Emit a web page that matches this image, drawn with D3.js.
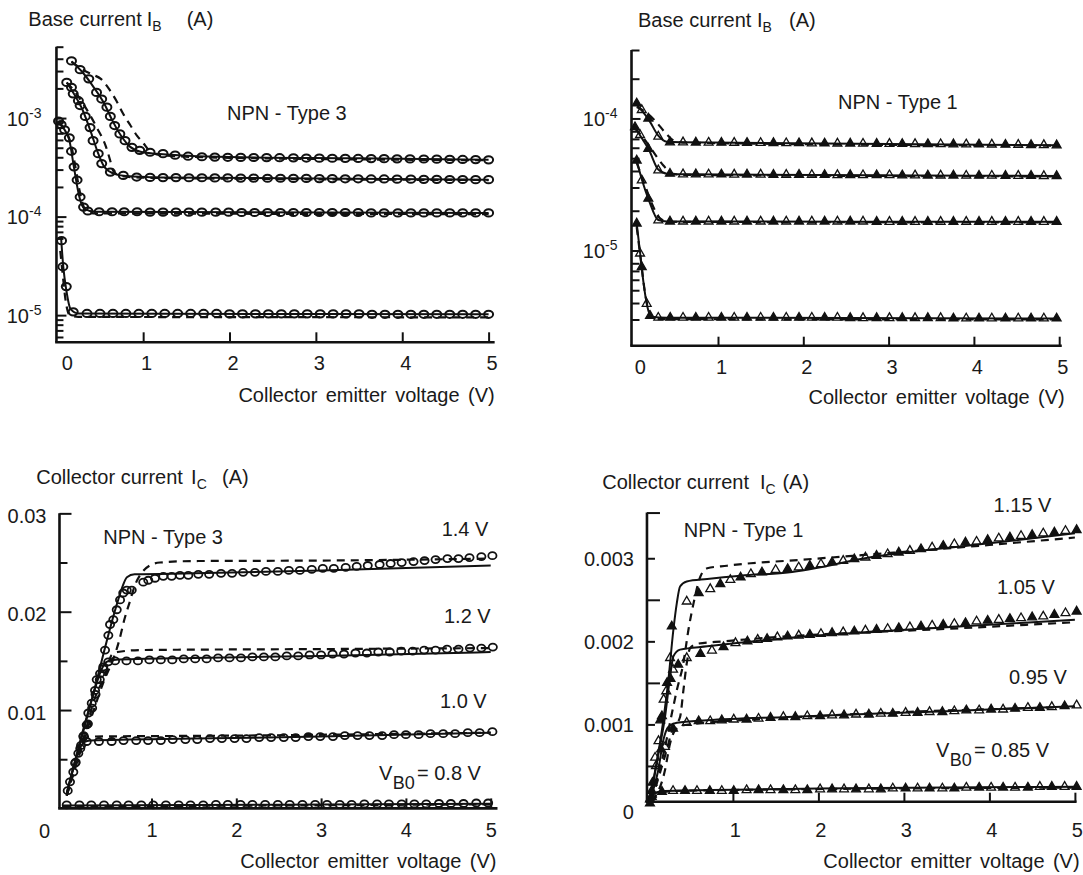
<!DOCTYPE html>
<html><head><meta charset="utf-8">
<script src="https://cdn.jsdelivr.net/npm/d3@7"></script>
<style>
body{margin:0;background:#fff;}
svg{display:block;}
text{font-family:"Liberation Sans",Arial,Helvetica,sans-serif;font-size:20px;fill:#1a1a1a;}
.pre{white-space:pre;}
.xt{word-spacing:2.8px;}
</style></head><body>
<svg id="chart" width="1083" height="875"></svg>
<script>
// ================= DATA =================
// Panel 1: NPN - Type 3, base current I_B (A) vs VCE (V), log axis
const P1_A_PTS=[[0.17,3.8e-3],[0.27,3.1e-3],[0.37,2.5e-3],[0.46,1.82e-3],[0.52,1.56e-3],[0.58,1.29e-3],[0.62,1.04e-3],[0.67,8.4e-4],[0.73,6.9e-4],[0.79,5.9e-4],[0.87,5.05e-4],[0.96,4.7e-4],[1.08,4.5e-4],[1.23,4.35e-4],[1.37,4.2e-4],[1.52,4.1e-4],[1.68,4.05e-4],[1.83,4.02e-4],[1.98,4.0e-4],[2.13,3.99e-4],[2.28,3.98e-4],[2.43,3.97e-4],[2.58,3.96e-4],[2.74,3.95e-4],[2.89,3.93e-4],[3.04,3.92e-4],[3.19,3.91e-4],[3.34,3.9e-4],[3.49,3.89e-4],[3.64,3.88e-4],[3.79,3.87e-4],[3.94,3.86e-4],[4.09,3.85e-4],[4.25,3.84e-4],[4.4,3.83e-4],[4.55,3.81e-4],[4.7,3.8e-4],[4.85,3.79e-4],[5.0,3.77e-4]];
const P1_A_FIT=[[0.17,3.75e-3],[0.3,2.9e-3],[0.42,2.1e-3],[0.55,1.4e-3],[0.65,9.2e-4],[0.75,6.5e-4],[0.85,5.1e-4],[0.97,4.55e-4],[1.15,4.35e-4],[2,4.02e-4],[3.5,3.9e-4],[5,3.78e-4]];
const P1_A_ALT=[[0.17,3.75e-3],[0.3,3.1e-3],[0.42,2.75e-3],[0.51,2.5e-3],[0.6,2.0e-3],[0.69,1.5e-3],[0.77,1.1e-3],[0.85,8.5e-4],[0.93,6.6e-4],[1.0,5.6e-4],[1.08,4.6e-4],[1.2,4.2e-4],[2,3.95e-4],[5,3.74e-4]];
const P1_B_PTS=[[0.115,2.3e-3],[0.17,2.05e-3],[0.19,1.76e-3],[0.25,1.5e-3],[0.27,1.34e-3],[0.33,1.04e-3],[0.385,8.0e-4],[0.42,5.9e-4],[0.48,4.35e-4],[0.52,3.45e-4],[0.62,2.83e-4],[0.77,2.62e-4],[0.925,2.52e-4],[1.08,2.5e-4],[1.23,2.49e-4],[1.38,2.49e-4],[1.53,2.48e-4],[1.68,2.48e-4],[1.83,2.47e-4],[1.98,2.47e-4],[2.13,2.46e-4],[2.28,2.46e-4],[2.44,2.45e-4],[2.59,2.45e-4],[2.74,2.44e-4],[2.89,2.44e-4],[3.04,2.43e-4],[3.19,2.43e-4],[3.34,2.42e-4],[3.49,2.42e-4],[3.64,2.41e-4],[3.79,2.41e-4],[3.94,2.4e-4],[4.1,2.4e-4],[4.25,2.39e-4],[4.4,2.39e-4],[4.55,2.38e-4],[4.7,2.38e-4],[4.85,2.37e-4],[5.0,2.37e-4]];
const P1_B_FIT=[[0.115,2.3e-3],[0.2,1.75e-3],[0.3,1.2e-3],[0.4,7e-4],[0.47,4.6e-4],[0.55,3.2e-4],[0.65,2.75e-4],[0.8,2.58e-4],[1.2,2.5e-4],[5,2.37e-4]];
const P1_B_ALT=[[0.115,2.3e-3],[0.22,1.8e-3],[0.33,1.29e-3],[0.46,8.1e-4],[0.57,5.1e-4],[0.615,3.8e-4],[0.655,2.9e-4],[0.73,2.6e-4],[1.0,2.48e-4],[5,2.35e-4]];
const P1_C_PTS=[[0.02,9.3e-4],[0.05,8.6e-4],[0.09,7.6e-4],[0.145,6.3e-4],[0.17,4.6e-4],[0.2,3.2e-4],[0.235,2.35e-4],[0.27,1.58e-4],[0.31,1.25e-4],[0.36,1.14e-4],[0.49,1.12e-4],[0.64,1.12e-4],[0.78,1.12e-4],[0.93,1.12e-4],[1.08,1.11e-4],[1.23,1.11e-4],[1.38,1.11e-4],[1.53,1.11e-4],[1.68,1.11e-4],[1.84,1.11e-4],[1.99,1.11e-4],[2.14,1.1e-4],[2.29,1.1e-4],[2.44,1.1e-4],[2.59,1.1e-4],[2.74,1.1e-4],[2.89,1.1e-4],[3.04,1.1e-4],[3.19,1.1e-4],[3.34,1.1e-4],[3.49,1.1e-4],[3.64,1.09e-4],[3.79,1.09e-4],[3.95,1.09e-4],[4.1,1.09e-4],[4.25,1.09e-4],[4.4,1.09e-4],[4.55,1.09e-4],[4.7,1.09e-4],[4.85,1.09e-4],[5.0,1.09e-4]];
const P1_C_FIT=[[0.02,9.3e-4],[0.09,7.6e-4],[0.145,6.0e-4],[0.2,3.1e-4],[0.26,1.6e-4],[0.32,1.2e-4],[0.45,1.12e-4],[5,1.09e-4]];
const P1_C_ALT=[[0.02,9.0e-4],[0.1,7.4e-4],[0.16,5.6e-4],[0.21,3.4e-4],[0.26,1.9e-4],[0.32,1.22e-4],[0.42,1.08e-4],[5,1.06e-4]];
const P1_D_PTS=[[0.055,5.7e-5],[0.07,3.1e-5],[0.11,1.95e-5],[0.19,1.08e-5],[0.35,1.04e-5],[0.5,1.04e-5],[0.65,1.04e-5],[0.8,1.04e-5],[0.95,1.04e-5],[1.1,1.04e-5],[1.25,1.04e-5],[1.4,1.04e-5],[1.55,1.04e-5],[1.7,1.04e-5],[1.85,1.04e-5],[2.0,1.03e-5],[2.15,1.03e-5],[2.3,1.03e-5],[2.45,1.03e-5],[2.6,1.03e-5],[2.75,1.03e-5],[2.9,1.03e-5],[3.05,1.03e-5],[3.2,1.03e-5],[3.35,1.03e-5],[3.5,1.03e-5],[3.65,1.02e-5],[3.8,1.02e-5],[3.95,1.02e-5],[4.1,1.02e-5],[4.25,1.02e-5],[4.4,1.02e-5],[4.55,1.02e-5],[4.7,1.02e-5],[4.85,1.02e-5],[5.0,1.02e-5]];
const P1_D_FIT=[[0.05,6e-5],[0.075,3.1e-5],[0.11,1.8e-5],[0.16,1.15e-5],[0.25,1.04e-5],[5,1.02e-5]];
const P1_D_ALT=[[0.04,4.5e-5],[0.07,2.5e-5],[0.1,1.45e-5],[0.15,1.0e-5],[0.25,9.6e-6],[5,9.5e-6]];

// Panel 2: NPN - Type 1, base current I_B (A), log axis
const P2_A_PTS=[[0.047,1.3e-4],[0.106,1.16e-4],[0.183,1.0e-4],[0.3,7.3e-5],[0.437,6.6e-5],[0.59,6.6e-5],[0.74,6.58e-5],[0.89,6.57e-5],[1.04,6.56e-5],[1.19,6.55e-5],[1.34,6.54e-5],[1.5,6.53e-5],[1.65,6.52e-5],[1.8,6.51e-5],[1.95,6.5e-5],[2.1,6.49e-5],[2.25,6.48e-5],[2.4,6.47e-5],[2.55,6.46e-5],[2.7,6.45e-5],[2.86,6.44e-5],[3.01,6.43e-5],[3.16,6.42e-5],[3.31,6.41e-5],[3.46,6.4e-5],[3.61,6.39e-5],[3.76,6.38e-5],[3.91,6.37e-5],[4.06,6.36e-5],[4.21,6.35e-5],[4.37,6.34e-5],[4.52,6.32e-5],[4.67,6.3e-5],[4.82,6.29e-5],[4.97,6.27e-5]];
const P2_A_FIT=[[0.047,1.27e-4],[0.12,1.12e-4],[0.2,9.5e-5],[0.3,7.4e-5],[0.4,6.65e-5],[0.6,6.6e-5],[5,6.27e-5]];
const P2_A_ALT=[[0.047,1.22e-4],[0.15,1.12e-4],[0.27,9.5e-5],[0.39,7.7e-5],[0.5,6.7e-5],[0.65,6.55e-5],[5,6.22e-5]];
const P2_B_PTS=[[0.027,8.6e-5],[0.086,7.5e-5],[0.183,5.9e-5],[0.3,4.05e-5],[0.437,3.82e-5],[0.59,3.78e-5],[0.74,3.78e-5],[0.89,3.77e-5],[1.04,3.77e-5],[1.19,3.76e-5],[1.34,3.76e-5],[1.5,3.76e-5],[1.65,3.75e-5],[1.8,3.75e-5],[1.95,3.75e-5],[2.1,3.74e-5],[2.25,3.74e-5],[2.4,3.73e-5],[2.55,3.73e-5],[2.7,3.72e-5],[2.86,3.72e-5],[3.01,3.72e-5],[3.16,3.71e-5],[3.31,3.71e-5],[3.46,3.7e-5],[3.61,3.7e-5],[3.76,3.7e-5],[3.91,3.69e-5],[4.06,3.69e-5],[4.21,3.69e-5],[4.37,3.68e-5],[4.52,3.68e-5],[4.67,3.68e-5],[4.82,3.67e-5],[4.97,3.67e-5]];
const P2_B_FIT=[[0.027,8.6e-5],[0.1,7.2e-5],[0.19,5.8e-5],[0.3,4.1e-5],[0.4,3.82e-5],[0.6,3.78e-5],[5,3.67e-5]];
const P2_B_ALT=[[0.027,8.4e-5],[0.12,7.2e-5],[0.24,5.6e-5],[0.36,4.4e-5],[0.47,3.8e-5],[0.6,3.74e-5],[5,3.64e-5]];
const P2_C_PTS=[[0.047,4.8e-5],[0.106,3.4e-5],[0.183,2.47e-5],[0.3,1.69e-5],[0.437,1.66e-5],[0.59,1.66e-5],[0.74,1.66e-5],[0.89,1.66e-5],[1.04,1.66e-5],[1.19,1.66e-5],[1.34,1.66e-5],[1.5,1.66e-5],[1.65,1.66e-5],[1.8,1.66e-5],[1.95,1.66e-5],[2.1,1.66e-5],[2.25,1.66e-5],[2.4,1.66e-5],[2.55,1.66e-5],[2.7,1.66e-5],[2.86,1.65e-5],[3.01,1.65e-5],[3.16,1.65e-5],[3.31,1.65e-5],[3.46,1.65e-5],[3.61,1.65e-5],[3.76,1.65e-5],[3.91,1.65e-5],[4.06,1.65e-5],[4.21,1.65e-5],[4.37,1.65e-5],[4.52,1.65e-5],[4.67,1.65e-5],[4.82,1.65e-5],[4.97,1.65e-5]];
const P2_C_FIT=[[0.047,4.8e-5],[0.11,3.4e-5],[0.19,2.4e-5],[0.3,1.7e-5],[0.4,1.66e-5],[5,1.65e-5]];
const P2_C_ALT=[[0.047,4.6e-5],[0.13,3.3e-5],[0.22,2.3e-5],[0.32,1.75e-5],[0.42,1.65e-5],[5,1.63e-5]];
const P2_D_PTS=[[0.047,1.6e-5],[0.086,9.5e-6],[0.106,7.5e-6],[0.164,3.95e-6],[0.203,3.2e-6],[0.3,3.1e-6],[0.44,3.1e-6],[0.59,3.1e-6],[0.74,3.1e-6],[0.89,3.1e-6],[1.04,3.1e-6],[1.19,3.1e-6],[1.34,3.1e-6],[1.5,3.1e-6],[1.65,3.1e-6],[1.8,3.1e-6],[1.95,3.1e-6],[2.1,3.1e-6],[2.25,3.1e-6],[2.4,3.1e-6],[2.55,3.08e-6],[2.7,3.08e-6],[2.86,3.08e-6],[3.01,3.08e-6],[3.16,3.08e-6],[3.31,3.08e-6],[3.46,3.08e-6],[3.61,3.08e-6],[3.76,3.06e-6],[3.91,3.06e-6],[4.06,3.06e-6],[4.21,3.06e-6],[4.37,3.06e-6],[4.52,3.06e-6],[4.67,3.06e-6],[4.82,3.06e-6],[4.97,3.06e-6]];
const P2_D_FIT=[[0.047,1.6e-5],[0.09,9.2e-6],[0.125,5.8e-6],[0.17,3.8e-6],[0.22,3.15e-6],[0.4,3.1e-6],[5,3.05e-6]];
const P2_D_ALT=[[0.047,1.5e-5],[0.1,8.0e-6],[0.14,5.0e-6],[0.19,3.5e-6],[0.26,3.02e-6],[5,3.0e-6]];

// Panel 3: NPN - Type 3, collector current I_C (A), linear axis
const P3_14_PTS=[[0.196,0.0073],[0.236,0.0085],[0.255,0.0097],[0.295,0.0107],[0.334,0.012],[0.354,0.0131],[0.393,0.0137],[0.432,0.0144],[0.452,0.0161],[0.491,0.0176],[0.511,0.0187],[0.55,0.0192],[0.59,0.0202],[0.629,0.0212],[0.667,0.0219],[0.708,0.0222],[0.767,0.0222],[0.903,0.023],[0.962,0.0232],[1.041,0.0234],[1.139,0.0236],[1.238,0.0236],[1.336,0.0237],[1.434,0.0237],[1.552,0.0238],[1.68,0.0238],[1.82,0.0239],[1.95,0.0239],[2.08,0.024],[2.22,0.024],[2.35,0.0241],[2.49,0.0241],[2.62,0.0242],[2.75,0.0242],[2.89,0.0243],[3.02,0.0244],[3.15,0.0244],[3.29,0.0245],[3.42,0.0246],[3.55,0.0247],[3.69,0.0248],[3.82,0.0249],[3.95,0.025],[4.09,0.0251],[4.22,0.0252],[4.35,0.0253],[4.49,0.0254],[4.62,0.0254],[4.75,0.0255],[4.89,0.0256],[5.02,0.0257]];
const P3_14_FIT=[[0,0.0015],[0.3,0.0112],[0.6,0.021],[0.66,0.0226],[0.71,0.0235],[0.8,0.0238],[1.5,0.0239],[3,0.0242],[5,0.0247]];
const P3_14_ALT=[[0,0.0013],[0.3,0.0095],[0.45,0.0132],[0.55,0.0152],[0.62,0.0171],[0.68,0.0192],[0.74,0.0209],[0.81,0.0228],[0.88,0.0239],[0.98,0.0247],[1.1,0.025],[1.5,0.02515],[3,0.0252],[5,0.0254]];
const P3_12_PTS=[[0.1,0.0046],[0.16,0.0061],[0.2,0.0074],[0.25,0.0086],[0.3,0.0102],[0.34,0.0116],[0.39,0.0131],[0.43,0.0142],[0.49,0.0149],[0.57,0.015],[0.705,0.015],[0.84,0.015],[0.975,0.0151],[1.11,0.0151],[1.245,0.0151],[1.38,0.0152],[1.515,0.0152],[1.65,0.0152],[1.785,0.0153],[1.92,0.0153],[2.055,0.0153],[2.19,0.0154],[2.325,0.0154],[2.46,0.0154],[2.595,0.0155],[2.73,0.0155],[2.865,0.0156],[3.0,0.0156],[3.135,0.0157],[3.27,0.0157],[3.405,0.0158],[3.54,0.0158],[3.675,0.0159],[3.81,0.0159],[3.945,0.016],[4.08,0.016],[4.215,0.0161],[4.35,0.0161],[4.485,0.0162],[4.62,0.0162],[4.755,0.0163],[4.89,0.0163],[5.025,0.0164]];
const P3_12_FIT=[[0,0.0015],[0.3,0.0112],[0.42,0.0143],[0.47,0.0149],[0.55,0.0151],[1.5,0.0153],[3,0.0155],[5,0.0159]];
const P3_12_ALT=[[0,0.0013],[0.2,0.0072],[0.34,0.0114],[0.46,0.0137],[0.53,0.0156],[0.6,0.0159],[0.87,0.0161],[3,0.0162],[5,0.0163]];
const P3_10_PTS=[[0.012,0.0018],[0.039,0.0027],[0.078,0.0037],[0.106,0.0047],[0.137,0.0056],[0.169,0.0064],[0.236,0.0068],[0.38,0.0068],[0.53,0.0068],[0.67,0.0069],[0.82,0.0069],[0.96,0.0069],[1.11,0.0069],[1.25,0.007],[1.4,0.007],[1.54,0.007],[1.69,0.0071],[1.83,0.0071],[1.98,0.0071],[2.12,0.0071],[2.27,0.0072],[2.41,0.0072],[2.56,0.0072],[2.7,0.0072],[2.85,0.0073],[2.99,0.0073],[3.14,0.0073],[3.28,0.0074],[3.43,0.0074],[3.57,0.0074],[3.72,0.0074],[3.86,0.0075],[4.0,0.0075],[4.15,0.0075],[4.29,0.0076],[4.44,0.0076],[4.58,0.0076],[4.73,0.0077],[4.87,0.0077],[5.02,0.0078]];
const P3_10_FIT=[[0,0.0015],[0.15,0.006],[0.2,0.0067],[0.28,0.0069],[1.5,0.0071],[3,0.0073],[5,0.0077]];
const P3_10_ALT=[[0,0.0013],[0.16,0.0058],[0.22,0.007],[0.26,0.0073],[2,0.0074],[5,0.0077]];
const P3_08_PTS=[[0.0,0.00035],[0.15,0.00035],[0.29,0.00035],[0.44,0.00035],[0.59,0.00035],[0.73,0.00035],[0.88,0.00035],[1.02,0.00035],[1.17,0.00035],[1.32,0.00035],[1.46,0.00035],[1.61,0.00035],[1.76,0.0004],[1.9,0.0004],[2.05,0.0004],[2.19,0.0004],[2.34,0.0004],[2.49,0.0004],[2.63,0.0004],[2.78,0.0004],[2.93,0.0004],[3.07,0.0004],[3.22,0.0004],[3.36,0.0004],[3.51,0.00045],[3.66,0.00045],[3.8,0.00045],[3.95,0.00045],[4.1,0.00045],[4.24,0.00045],[4.39,0.0005],[4.53,0.0005],[4.68,0.0005],[4.83,0.00055],[4.97,0.00055]];
const P3_08_FIT=[[-0.05,0.0003],[2.5,0.00038],[5,0.00048]];
const P3_08_ALT=[[-0.05,0.00022],[2.5,0.0003],[5,0.00042]];

// Panel 4: NPN - Type 1, collector current I_C (A), linear axis
const P4_115_PTS=[[0.03,0.0001],[0.09,0.0006],[0.15,0.00105],[0.19,0.0013],[0.23,0.0015],[0.265,0.0018],[0.285,0.00218],[0.46,0.00248],[0.6,0.00258],[0.735,0.00263],[0.853,0.00269],[0.97,0.00274],[1.09,0.00277],[1.21,0.00281],[1.34,0.00283],[1.5,0.00286],[1.64,0.00287],[1.77,0.00289],[1.9,0.00291],[2.03,0.00293],[2.16,0.00295],[2.29,0.00297],[2.42,0.00299],[2.55,0.00301],[2.68,0.00303],[2.81,0.00305],[2.94,0.00307],[3.07,0.00309],[3.2,0.00311],[3.33,0.00313],[3.46,0.00315],[3.59,0.00317],[3.72,0.00319],[3.85,0.0032],[3.98,0.00322],[4.11,0.00324],[4.24,0.00325],[4.37,0.00327],[4.5,0.00328],[4.63,0.0033],[4.76,0.00331],[4.89,0.00333],[5.02,0.00334]];
const P4_115_FIT=[[0.03,0.00009],[0.108,0.00053],[0.186,0.00105],[0.245,0.00153],[0.304,0.00214],[0.344,0.00246],[0.382,0.00266],[0.46,0.00272],[0.7,0.00275],[1.09,0.00279],[1.64,0.00283],[2.66,0.00302],[4,0.00318],[5,0.0033]];
const P4_115_ALT=[[0.05,0.0001],[0.2,0.0007],[0.3,0.0012],[0.344,0.00141],[0.421,0.00174],[0.48,0.00214],[0.54,0.00246],[0.62,0.00278],[0.7,0.00288],[0.93,0.00291],[1.21,0.00294],[1.64,0.00297],[2.66,0.00305],[4,0.00316],[5,0.00325]];
const P4_105_PTS=[[0.06,0.0003],[0.13,0.0008],[0.17,0.0011],[0.22,0.0014],[0.27,0.00155],[0.3,0.00166],[0.36,0.00172],[0.46,0.0018],[0.62,0.00185],[0.755,0.00189],[0.89,0.00193],[1.03,0.00198],[1.17,0.002],[1.29,0.00202],[1.4,0.00203],[1.52,0.00205],[1.64,0.00206],[1.77,0.00207],[1.9,0.00208],[2.03,0.00209],[2.16,0.0021],[2.29,0.00211],[2.42,0.00212],[2.55,0.00213],[2.68,0.00214],[2.81,0.00215],[2.94,0.00216],[3.07,0.00217],[3.2,0.00218],[3.33,0.00219],[3.46,0.0022],[3.59,0.00221],[3.72,0.00222],[3.85,0.00224],[3.98,0.00225],[4.11,0.00226],[4.24,0.00227],[4.37,0.00228],[4.5,0.00229],[4.63,0.0023],[4.76,0.00232],[4.89,0.00234],[5.02,0.00236]];
const P4_105_FIT=[[0.03,0.00009],[0.1,0.0005],[0.206,0.00109],[0.265,0.00157],[0.304,0.00182],[0.382,0.0019],[0.7,0.00194],[1.64,0.00204],[3.5,0.00217],[5,0.00226]];
const P4_105_ALT=[[0.05,0.00009],[0.2,0.0006],[0.3,0.00095],[0.382,0.00109],[0.421,0.00141],[0.461,0.00174],[0.5,0.00192],[0.58,0.00197],[0.89,0.002],[1.64,0.00206],[3.5,0.00215],[5,0.00223]];
const P4_095_PTS=[[0.05,0.0002],[0.1,0.0005],[0.16,0.0007],[0.206,0.00073],[0.3,0.00095],[0.46,0.00102],[0.6,0.00104],[0.735,0.00104],[0.87,0.00105],[1.01,0.00106],[1.16,0.00106],[1.3,0.00107],[1.44,0.00108],[1.59,0.00109],[1.73,0.00109],[1.87,0.0011],[2.02,0.0011],[2.16,0.00111],[2.3,0.00111],[2.44,0.00112],[2.59,0.00112],[2.73,0.00113],[2.87,0.00113],[3.02,0.00114],[3.16,0.00114],[3.3,0.00115],[3.45,0.00115],[3.59,0.00116],[3.73,0.00117],[3.88,0.00117],[4.02,0.00118],[4.16,0.00118],[4.3,0.00119],[4.45,0.0012],[4.59,0.0012],[4.73,0.00121],[4.88,0.00122],[5.02,0.00123]];
const P4_095_FIT=[[0.03,0.00009],[0.127,0.00045],[0.186,0.00081],[0.245,0.00097],[0.344,0.00102],[0.7,0.00105],[1.64,0.00109],[3.5,0.00116],[5,0.00122]];
const P4_095_ALT=[[0.05,0.00008],[0.206,0.00045],[0.265,0.00077],[0.324,0.00093],[0.421,0.00099],[1.64,0.00108],[5,0.00121]];
const P4_085_PTS=[[0.03,0.00005],[0.05,0.00013],[0.17,0.00019],[0.3,0.0002],[0.44,0.0002],[0.58,0.0002],[0.73,0.0002],[0.87,0.0002],[1.01,0.0002],[1.16,0.00021],[1.3,0.00021],[1.44,0.00021],[1.59,0.00021],[1.73,0.00021],[1.87,0.00021],[2.02,0.00022],[2.16,0.00022],[2.3,0.00022],[2.44,0.00022],[2.59,0.00022],[2.73,0.00022],[2.87,0.00023],[3.02,0.00023],[3.16,0.00023],[3.3,0.00023],[3.45,0.00023],[3.59,0.00023],[3.73,0.00024],[3.88,0.00024],[4.02,0.00024],[4.16,0.00024],[4.3,0.00024],[4.45,0.00024],[4.59,0.00025],[4.73,0.00025],[4.88,0.00025],[5.02,0.00025]];
const P4_085_FIT=[[0.0,0.00002],[0.03,0.00009],[0.1,0.00018],[0.2,0.0002],[5,0.00025]];
const P4_085_ALT=[[0.05,0.00006],[0.15,0.00017],[0.3,0.0002],[5,0.00024]];

// Tick values / labels
const X_TICKS=[1,2,3,4,5];
const X_LABELS=[0,1,2,3,4,5];
const P1_Y_MAJOR=[1e-5,1e-4,1e-3];
const P1_Y_MINOR=[6e-6,7e-6,8e-6,9e-6,6e-5,7e-5,8e-5,9e-5,2e-4,3e-4,4e-4,5e-4,6e-4,7e-4,8e-4,9e-4,2e-3,3e-3,4e-3,5.3e-3];
const P2_Y_MAJOR=[1e-5,1e-4];
const P2_Y_MINOR=[3e-6,4e-6,5e-6,6e-6,7e-6,8e-6,2e-5,3e-5,4e-5,5e-5,6e-5,7e-5,8e-5,2e-4,3.3e-4];
const P3_Y_MAJOR=[0.01,0.02,0.03];
const P3_Y_MINOR=[0.005,0.015,0.025];
const P4_Y_LABELS=[0,0.001,0.002,0.003];
const P4_Y_SHORT=[0.001,0.002,0.003];
const P4_Y_LONG=[0.0005,0.0015,0.0025,0.00355];
const P3_CURVE_LABELS=[{v:1.4,t:"1.4 V"},{v:1.2,t:"1.2 V"},{v:1.0,t:"1.0 V"}];
const P4_CURVE_LABELS=[{v:1.15,t:"1.15 V"},{v:1.05,t:"1.05 V"},{v:0.95,t:"0.95 V"}];

// ================= DRAWING =================
const svg=d3.select('#chart');
const defs=svg.append('defs');
const INK='#111';

function drawPanel(cfg){
  const x=d3.scaleLinear().domain([0,5]).range(cfg.xRange);
  const y=(cfg.log?d3.scaleLog():d3.scaleLinear()).domain(cfg.yDomain).range(cfg.yRange);
  const X0=x(cfg.xExt[0]),X1=x(cfg.xExt[1]);
  const YB=y(cfg.yExt[0]),YT=y(cfg.yExt[1]);
  const g=svg.append('g');
  defs.append('clipPath').attr('id',cfg.id+'clip').append('rect')
    .attr('x',X0).attr('y',YT-8).attr('width',X1-X0+10).attr('height',YB-YT+8);

  const plot=g.append('g').attr('clip-path',`url(#${cfg.id}clip)`);
  const line=d3.line().x(d=>x(d[0])).y(d=>y(d[1])).curve(d3.curveMonotoneX);
  cfg.series.forEach(s=>{
    plot.append('path').attr('d',line(s.fit)).attr('fill','none').attr('stroke',INK).attr('stroke-width',2);
    plot.append('path').attr('d',line(s.alt)).attr('fill','none').attr('stroke',INK).attr('stroke-width',2.2).attr('stroke-dasharray','8,6');
  });
  const mk=g.append('g');
  cfg.series.forEach(s=>{
    if(cfg.marker==='circle'){
      mk.selectAll(null).data(s.pts).enter().append('ellipse')
        .attr('cx',d=>x(d[0])).attr('cy',d=>y(d[1])).attr('rx',cfg.rx).attr('ry',cfg.ry)
        .attr('fill','none').attr('stroke',INK).attr('stroke-width',cfg.mw);
    } else {
      const sym=d3.symbol(d3.symbolTriangle,34)();
      mk.selectAll(null).data(s.pts).enter().append('path')
        .attr('d',sym).attr('transform',d=>`translate(${x(d[0])},${y(d[1])})`)
        .attr('fill',(d,i)=>i%2===0?INK:'none').attr('stroke',INK).attr('stroke-width',1.3);
    }
  });

  // axis lines
  g.append('line').attr('x1',X0).attr('x2',X0).attr('y1',YT).attr('y2',YB).attr('stroke',INK).attr('stroke-width',2.6);
  g.append('line').attr('x1',X0-1.3).attr('x2',X1).attr('y1',YB).attr('y2',YB).attr('stroke',INK).attr('stroke-width',2.6);

  // y ticks
  const strip=sel=>{sel.select('.domain').remove();sel.attr('font-size',null).attr('font-family',null);sel.selectAll('.tick line').attr('stroke-width',2).attr('stroke',INK);};
  cfg.yTicks.forEach(t=>{
    const ax=d3.axisLeft(y).tickValues(t.values).tickSize(-t.len).tickSizeOuter(0).tickFormat(()=> '');
    g.append('g').attr('transform',`translate(${X0},0)`).call(ax).call(strip).selectAll('text').remove();
  });
  // y labels
  const yl=g.append('g').attr('transform',`translate(${X0},0)`)
    .call(d3.axisLeft(y).tickValues(cfg.yLabels).tickSize(0).tickPadding(cfg.yPad).tickFormat(cfg.yFmt||(d=>'')))
    .call(strip);
  yl.selectAll('.tick text').attr('dy',d=>((d===0&&cfg.y0dy)?cfg.y0dy:(cfg.yDy||7))+'px');
  if(cfg.log){
    yl.selectAll('.tick text').each(function(d){
      const t=d3.select(this);t.text('');
      t.append('tspan').text('10');
      t.append('tspan').attr('font-size',14).attr('dy',-8).text(String(Math.round(Math.log10(d))));
    });
  }
  // x ticks
  g.append('g').attr('transform',`translate(0,${YB})`)
    .call(d3.axisBottom(x).tickValues(X_TICKS).tickSize(-cfg.xTickLen).tickSizeOuter(0).tickFormat(()=> ''))
    .call(strip).selectAll('text').remove();
  const xl=g.append('g').attr('transform',`translate(0,${YB})`)
    .call(d3.axisBottom(x).tickValues(cfg.xLabels).tickSize(0).tickPadding(cfg.xPad).tickFormat(d3.format('d')))
    .call(strip);
  xl.selectAll('.tick text').attr('dx',d=>d===0?cfg.x0dx:cfg.xdx);

  // axis titles
  g.append('text').attr('class','xt').attr('x',X1+cfg.xTitle[0]).attr('y',YB+cfg.xTitle[1]).attr('text-anchor','end').text('Collector emitter voltage (V)');
  const tt=g.append('text').attr('class','pre').attr('x',cfg.title.x).attr('y',cfg.title.y);
  tt.append('tspan').text(cfg.title.main);
  tt.append('tspan').attr('x',cfg.title.ix).text('I');
  tt.append('tspan').attr('font-size',14).attr('dy',5).text(cfg.title.sub);
  tt.append('tspan').attr('x',cfg.title.ax).attr('dy',-5).text('(A)');
  g.append('text').attr('x',cfg.npn[0]).attr('y',cfg.npn[1]).text(cfg.npn[2]);
  return {g,x,y,X0,YB};
}

const p1=drawPanel({id:'p1',log:true,xRange:[56.8,488.6],yDomain:[5.3e-6,5.3e-3],yRange:[342.3,46.7],
  xExt:[-0.004,5.07],yExt:[5.3e-6,5.3e-3],marker:'circle',rx:4.5,ry:3.6,mw:2,
  yTicks:[{values:P1_Y_MAJOR,len:10},{values:P1_Y_MINOR,len:7}],yLabels:P1_Y_MAJOR,yPad:15,yDy:7,
  xTickLen:10,xLabels:X_LABELS,xPad:14,x0dx:10,xdx:3,xTitle:[0,60],
  title:{x:28.3,y:26,main:'Base current',ix:146.7,sub:'B',ax:186.7},npn:[227,120,'NPN - Type 3'],
  series:[{pts:P1_A_PTS,fit:P1_A_FIT,alt:P1_A_ALT},{pts:P1_B_PTS,fit:P1_B_FIT,alt:P1_B_ALT},{pts:P1_C_PTS,fit:P1_C_FIT,alt:P1_C_ALT},{pts:P1_D_PTS,fit:P1_D_FIT,alt:P1_D_ALT}]});

const p2=drawPanel({id:'p2',log:true,xRange:[632.7,1059.2],yDomain:[1.9e-6,3.3e-4],yRange:[345.7,50],
  xExt:[-0.014,5.03],yExt:[1.9e-6,3.3e-4],marker:'triangle',
  yTicks:[{values:P2_Y_MAJOR,len:9},{values:P2_Y_MINOR,len:8}],yLabels:P2_Y_MAJOR,yPad:14,yDy:7,
  xTickLen:9,xLabels:X_LABELS,xPad:14,x0dx:7,xdx:3,xTitle:[3,58],
  title:{x:638,y:27,main:'Base current',ix:757,sub:'B',ax:789},npn:[838,109,'NPN - Type 1'],
  series:[{pts:P2_A_PTS,fit:P2_A_FIT,alt:P2_A_ALT},{pts:P2_B_PTS,fit:P2_B_FIT,alt:P2_B_ALT},{pts:P2_C_PTS,fit:P2_C_FIT,alt:P2_C_ALT},{pts:P2_D_PTS,fit:P2_D_FIT,alt:P2_D_ALT}]});

const p3=drawPanel({id:'p3',log:false,xRange:[66.7,490.7],yDomain:[0,0.03],yRange:[808.4,513.35],
  xExt:[-0.085,5.08],yExt:[0,0.03],marker:'circle',rx:4.1,ry:3.5,mw:1.8,
  yTicks:[{values:P3_Y_MAJOR,len:12},{values:P3_Y_MINOR,len:8}],yLabels:P3_Y_MAJOR,yPad:13,yDy:9,yFmt:d3.format('.2f'),
  xTickLen:10,xLabels:X_TICKS,xPad:14,x0dx:0,xdx:0,xTitle:[-1,60],
  title:{x:36.2,y:484,main:'Collector current',ix:191.1,sub:'C',ax:222},npn:[103.3,544,'NPN - Type 3'],
  series:[{pts:P3_14_PTS,fit:P3_14_FIT,alt:P3_14_ALT},{pts:P3_12_PTS,fit:P3_12_FIT,alt:P3_12_ALT},{pts:P3_10_PTS,fit:P3_10_FIT,alt:P3_10_ALT},{pts:P3_08_PTS,fit:P3_08_FIT,alt:P3_08_ALT}]});

const p4=drawPanel({id:'p4',log:false,xRange:[647.4,1074.9],yDomain:[0,0.003],yRange:[807.5,558.26],
  xExt:[-0.005,5.02],yExt:[0.00007,0.00355],marker:'triangle',
  yTicks:[{values:P4_Y_SHORT,len:8},{values:P4_Y_LONG,len:13}],yLabels:P4_Y_LABELS,yPad:13,yDy:7,y0dy:11,yFmt:d=>d===0?'0':d3.format('.3f')(d),
  xTickLen:9,xLabels:X_TICKS,xPad:21,x0dx:0,xdx:2,xTitle:[3,66],
  title:{x:602.3,y:489,main:'Collector current',ix:759.9,sub:'C',ax:782.4},npn:[683.7,537,'NPN - Type 1'],
  series:[{pts:P4_115_PTS,fit:P4_115_FIT,alt:P4_115_ALT},{pts:P4_105_PTS,fit:P4_105_FIT,alt:P4_105_ALT},{pts:P4_095_PTS,fit:P4_095_FIT,alt:P4_095_ALT},{pts:P4_085_PTS,fit:P4_085_FIT,alt:P4_085_ALT}]});

// origin "0" label of panel 3 (placed below-left of the corner)
p3.g.append('text').attr('x',p3.X0-15).attr('y',p3.y(0)+30).attr('text-anchor','middle').text('0');

// Curve labels (base-voltage values)
function curveLabels(p,list,pos){
  list.forEach((c,i)=>p.g.append('text').attr('x',pos[i][0]).attr('y',pos[i][1]).text(c.t));
}
curveLabels(p3,P3_CURVE_LABELS,[[441.7,536],[444,623],[440,708]]);
curveLabels(p4,P4_CURVE_LABELS,[[993.6,512],[997,594],[1009,684]]);
function vb0(p,vx,vy,val){
  p.g.append('text').attr('x',vx).attr('y',vy).text('V');
  p.g.append('text').attr('x',vx+13.8).attr('y',vy+9).style('font-size','18px').text('B0');
  p.g.append('text').attr('x',vx+38).attr('y',vy).text('= '+val+' V');
}
vb0(p3,379,780,'0.8');
vb0(p4,936,757,'0.85');
</script>
</body></html>
